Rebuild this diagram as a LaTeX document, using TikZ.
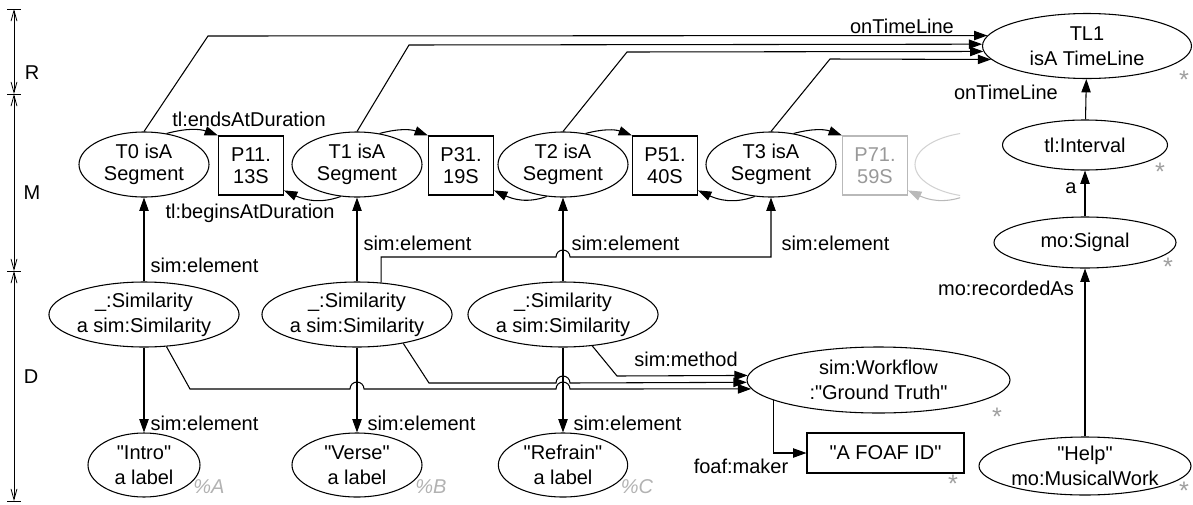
\documentclass[tikz,border=0pt]{standalone}
\usepackage{fontspec}
\setmainfont{Liberation Sans}[Ligatures=TeXOff]
\usetikzlibrary{arrows.meta,positioning,shapes.geometric,calc}

\begin{document}
\begin{tikzpicture}[
    x=0.75pt, y=-0.75pt,
    line width=0.8pt,
    font=\fontsize{15pt}{18.75pt}\selectfont,
    seg/.style={
        draw,
        ellipse,
        inner sep=0pt,
        minimum width=97.5pt,
        minimum height=48.75pt,
        align=center,
        font=\fontsize{15pt}{16.5pt}\selectfont
    },
    dur/.style={
        draw,
        rectangle,
        inner sep=0pt,
        minimum width=48.75pt,
        minimum height=44.25pt,
        align=center,
        font=\fontsize{15pt}{16.5pt}\selectfont
    },
    sim/.style={
        draw,
        ellipse,
        inner sep=0pt,
        minimum width=142.5pt,
        minimum height=48.75pt,
        align=center
    },
    res/.style={
        draw,
        ellipse,
        inner sep=0pt,
        align=center
    },
    lbl/.style={inner sep=0pt},
    star/.style={inner sep=0pt, text=gray!75, font=\fontsize{19pt}{20pt}\selectfont},
    pct/.style={inner sep=0pt, text=gray!60, font=\fontsize{15pt}{18pt}\selectfont\itshape},
    arr/.style={-{Triangle[length=10pt,width=7pt]}},
    barb/.style={line width=0.6pt,
        {Straight Barb[length=8pt,width=4.5pt]}-{Straight Barb[length=8pt,width=4.5pt]}}
]
\useasboundingbox (0,0) rectangle (1193,504);

% level scale on the left
\coordinate (b0) at (14,9);
\coordinate (b1) at (14,94);
\coordinate (b2) at (14,271);
\coordinate (b3) at (14,501);
\foreach \b in {b0,b1,b2,b3}
    \draw[line width=0.6pt] (\b) ++(-7,0) -- ++(14,0);
\draw[barb] (b0) -- (b1);
\draw[barb] (b1) -- (b2);
\draw[barb] (b2) -- (b3);
\node[lbl] (lvlR) at (32,73) {R};
\node[lbl] (lvlM) at (32,193) {M};
\node[lbl] (lvlD) at (31,377) {D};

% segments and durations
\node[seg] (T0) at (144,164.5) {T0 isA\\Segment};
\node[dur] (P11) at (251,165.5) {P11.\\13S};
\node[seg] (T1) at (357,164.5) {T1 isA\\Segment};
\node[dur] (P31) at (461,165.5) {P31.\\19S};
\node[seg] (T2) at (563,164.5) {T2 isA\\Segment};
\node[dur] (P51) at (665,165.5) {P51.\\40S};
\node[seg] (T3) at (771,164.5) {T3 isA\\Segment};
\node[dur, draw=gray!55, text=gray!80] (P71) at (875,165.5) {P71.\\59S};

\begin{scope}
    \clip (890,115) rectangle (960,215);
    \node[seg, draw=gray!35] (T4) at (980,164.5) {};
    \draw[arr, gray!55] (T4.243) to[out=200,in=-25] (P71.-37);
\end{scope}

\draw[arr] (T0.54) to[out=15,in=160] (P11.north west);
\draw[arr] (T1.243) to[out=200,in=-25] (P11.-37);
\draw[arr] (T1.54) to[out=15,in=160] (P31.north west);
\draw[arr] (T2.243) to[out=200,in=-25] (P31.-37);
\draw[arr] (T2.54) to[out=15,in=160] (P51.north west);
\draw[arr] (T3.243) to[out=200,in=-25] (P51.-37);
\draw[arr] (T3.54) to[out=15,in=160] (P71.north west);

\node[lbl] (lEnds) at (249,119) {tl:endsAtDuration};
\node[lbl] (lBegins) at (250,213) {tl:beginsAtDuration};

% timeline
\node[res, minimum width=156.75pt, minimum height=48.75pt] (TL1) at (1087,46) {TL1\\isA TimeLine};
\node[star] (sTL1) at (1184,80) {*};

\draw[arr] (T0.north) -- (208,36) -- (TL1.174);
\draw[arr] (T1.north) -- (409,45) -- (TL1.179);
\draw[arr] (T2.north) -- (627,52) -- (TL1.183);
\draw[arr] (T3.north) -- (830,59) -- (TL1.188);
\node[lbl] (lTime) at (902,26) {onTimeLine};

\node[res, minimum width=123.75pt, minimum height=37.5pt] (Ival) at (1085,145) {tl:Interval};
\node[star] (sIval) at (1160,172) {*};
\node[res, minimum width=136.5pt, minimum height=38.25pt] (Sig) at (1085,242.5) {mo:Signal};
\node[star] (sSig) at (1168,267) {*};
\node[res, minimum width=159pt, minimum height=43.5pt] (Help) at (1085,466) {"Help"\\mo:MusicalWork};
\node[star] (sHelp) at (1184,491) {*};

\draw[arr] (Ival) -- (TL1);
\draw[arr] (Sig) -- (Ival);
\draw[arr] (Help) -- (Sig);
\node[lbl] (lTimeB) at (1006,92) {onTimeLine};
\node[lbl] (lA) at (1071,188) {a};
\node[lbl] (lRec) at (1006,288) {mo:recordedAs};

% similarities
\node[sim] (SimA) at (144,314.5) {\_:Similarity\\a sim:Similarity};
\node[sim] (SimB) at (357,314.5) {\_:Similarity\\a sim:Similarity};
\node[sim] (SimC) at (563,314.5) {\_:Similarity\\a sim:Similarity};

\node[res, minimum width=84pt, minimum height=48pt] (Intro) at (144,465) {"Intro"\\a label};
\node[res, minimum width=97.5pt, minimum height=48pt] (Verse) at (357,465) {"Verse"\\a label};
\node[res, minimum width=97pt, minimum height=48pt] (Refrain) at (563,465) {"Refrain"\\a label};
\node[pct] (pA) at (209,487) {\%A};
\node[pct] (pB) at (431,487) {\%B};
\node[pct] (pC) at (637,487) {\%C};

\draw[arr] (SimA) -- (T0);
\draw[arr] (SimB) -- (T1);
\draw[arr] (SimC) -- (T2);
\draw[arr] (SimB.53) |- (556,257) arc[start angle=180,end angle=0,radius=5.25pt] -| (T3.south);
\node[lbl, anchor=west] (lElA) at (150,265) {sim:element};
\node[lbl, anchor=west] (lElB) at (363,243) {sim:element};
\node[lbl, anchor=west] (lElC) at (571,243) {sim:element};
\node[lbl, anchor=west] (lElD) at (781,243) {sim:element};

\draw[arr] (SimA) -- (Intro);
\draw[arr] (SimB) -- (Verse);
\draw[arr] (SimC) -- (Refrain);
\node[lbl, anchor=west] (lDnA) at (150,423) {sim:element};
\node[lbl, anchor=west] (lDnB) at (367,423) {sim:element};
\node[lbl, anchor=west] (lDnC) at (573,423) {sim:element};

% workflow
\node[res, minimum width=197.25pt, minimum height=49.5pt] (Flow) at (878.5,380) {sim:Workflow\\:"Ground Truth"};
\node[star] (sFlow) at (997,417) {*};
\node[draw, inner sep=0pt, minimum width=117.75pt, minimum height=30pt] (Foaf) at (885.5,453) {"A FOAF ID"};
\node[star] (sFoaf) at (953,484) {*};

\draw[arr] (SimA.-55) -- (190,389) -- (350,389)
    arc[start angle=180,end angle=0,radius=5.25pt] -- (556,389)
    arc[start angle=180,end angle=0,radius=5.25pt] -- (Flow.184);
\draw[arr] (SimB.-32) -- (429,383) -- (556,383)
    arc[start angle=180,end angle=0,radius=5.25pt] -- (Flow.181);
\draw[arr] (SimC.-47) -- (617,376) -- (Flow.178);
\node[lbl] (lMethod) at (686,359) {sim:method};

\draw[arr] (Flow.191) |- (Foaf.west);
\node[lbl] (lMaker) at (741,466) {foaf:maker};

\end{tikzpicture}
\end{document}
